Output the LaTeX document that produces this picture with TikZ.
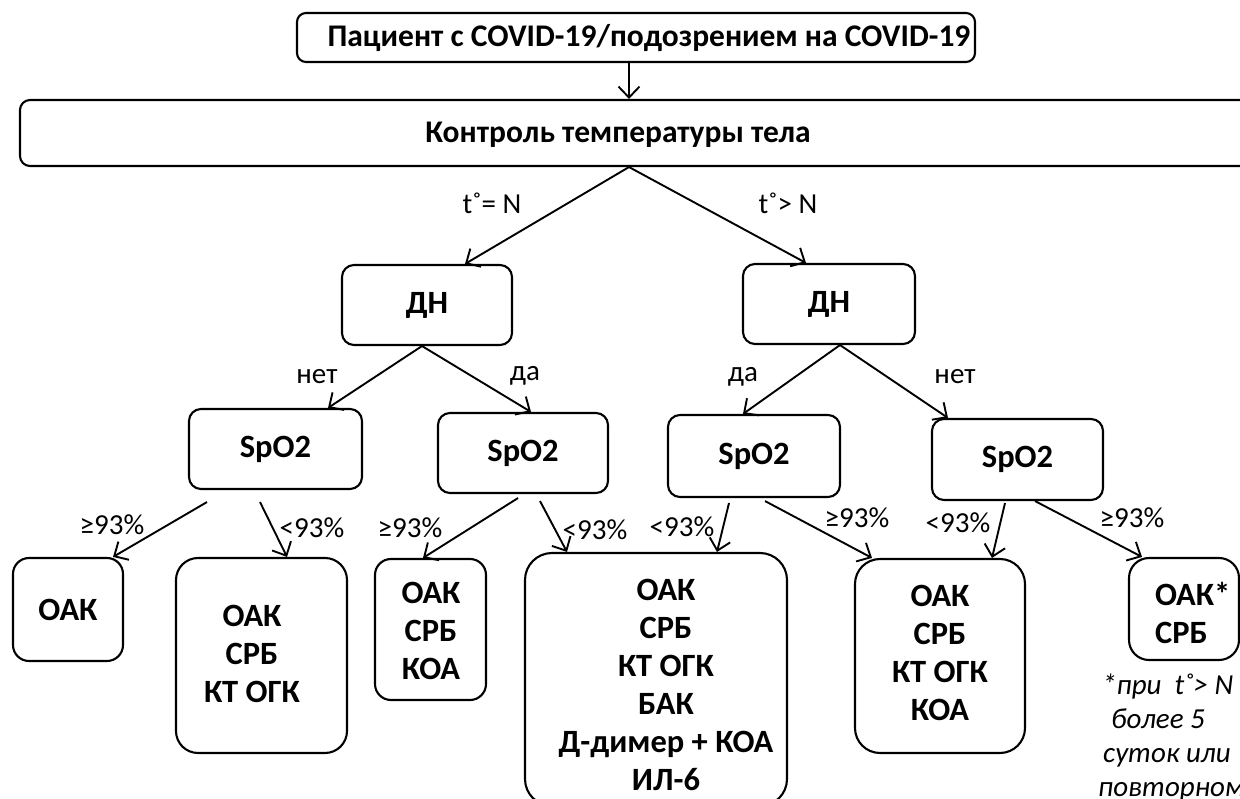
\documentclass[tikz,border=0pt]{standalone}
\usepackage{fontspec}
\setmainfont{Carlito}
\usetikzlibrary{arrows.meta}
\begin{document}
\begin{tikzpicture}[x=1pt,y=-1pt,
  box/.style={draw, line width=2.1pt, rounded corners=12pt, inner sep=0pt, align=center,
    font=\bfseries\fontsize{32.5}{38}\selectfont},
  btxt/.style={inner sep=0pt, align=center, font=\bfseries\fontsize{32.5}{38}\selectfont},
  lbl/.style={font=\fontsize{29}{33}\selectfont, inner sep=0pt},
  arr/.style={line width=1.9pt, -{Straight Barb[length=11pt,width=21pt]}}
]
\useasboundingbox (0,0) rectangle (1240,799);
\clip (0,0) rectangle (1240,799);

% top level
\node[box, minimum width=678pt, minimum height=49pt, rounded corners=9pt,
  font=\bfseries\fontsize{31.5}{38}\selectfont] (top) at (636,37.5)
  {\hspace*{26pt}Пациент с COVID-19/подозрением на COVID-19};
\node[box, minimum width=1250pt, minimum height=66pt, rounded corners=10pt] (ctrl) at (645,133) {};
\node[btxt, font=\bfseries\fontsize{31.5}{38}\selectfont] (ctrlt) at (618,135) {Контроль температуры тела};

% second level
\node[box, minimum width=170pt, minimum height=80pt] (dn1) at (427,305) {ДН};
\node[box, minimum width=172pt, minimum height=80pt] (dn2) at (829,304) {ДН};

% third level
\node[box, minimum width=173pt, minimum height=80pt] (s1) at (275.5,449) {SpO2};
\node[box, minimum width=170pt, minimum height=80pt] (s2) at (523,453) {SpO2};
\node[box, minimum width=172pt, minimum height=82pt] (s3) at (754,456) {SpO2};
\node[box, minimum width=171pt, minimum height=81pt] (s4) at (1017.5,459.5) {SpO2};

% fourth level
\node[box, minimum width=110pt, minimum height=103pt, rounded corners=16pt] (b1) at (68,609.5) {ОАК};
\node[box, minimum width=171pt, minimum height=195pt, rounded corners=22pt] (b2) at (261.5,655.5) {};
\node[btxt] (b2t) at (252,653.5) {ОАК\\СРБ\\КТ ОГК};
\node[box, minimum width=111pt, minimum height=141pt, rounded corners=16pt] (b3) at (430.5,629.5) {};
\node[btxt] (b3t) at (431,630.5) {ОАК\\СРБ\\КОА};
\node[box, minimum width=262pt, minimum height=253pt, rounded corners=27pt] (b4) at (656,679.5) {};
\node[btxt] (b4t) at (666,685) {ОАК\\СРБ\\КТ ОГК\\БАК\\Д-димер + КОА\\ИЛ-6};
\node[box, minimum width=170pt, minimum height=194pt, rounded corners=25pt] (b5) at (940,656) {};
\node[btxt] (b5t) at (940,652.5) {ОАК\\СРБ\\КТ ОГК\\КОА};
\node[box, minimum width=110pt, minimum height=102pt, rounded corners=20pt] (b6) at (1184,609) {};
\node[btxt, align=left, anchor=west] (b6t) at (1155,612.5) {ОАК*\\СРБ};

\node[font=\itshape\fontsize{29}{34}\selectfont, inner sep=0pt, align=left, anchor=north west] (note) at (1098,674)
  {\hspace*{4pt}*при\ \ t˚> N\\\hspace*{13pt}более 5\\\hspace*{5pt}суток или\\повторном};

% connectors
\draw[arr] ([xshift=-7pt]top.south) -- ([xshift=-16pt]ctrl.north);
\draw[arr] ([xshift=-16pt]ctrl.south) -- ([xshift=38pt]dn1.north);
\draw[arr] ([xshift=-16pt]ctrl.south) -- ([xshift=-23pt]dn2.north);
\node[lbl] (lt1) at (492,203) {t˚= N};
\node[lbl] (lt2) at (788,203) {t˚> N};

\draw[arr] ([xshift=-5pt]dn1.south) -- ([xshift=52.5pt]s1.north);
\draw[arr] ([xshift=-5pt]dn1.south) -- ([xshift=8pt]s2.north);
\node[lbl] (l1) at (317,377) {нет};
\node[lbl] (l2) at (525,376) {да};
\draw[arr] ([xshift=11pt]dn2.south) -- ([xshift=-11pt]s3.north);
\draw[arr] ([xshift=11pt]dn2.south) -- ([xshift=-69.5pt]s4.north);
\node[lbl] (l3) at (743,377) {да};
\node[lbl] (l4) at (955,377) {нет};

\draw[arr] ([xshift=-68.5pt,yshift=-12pt]s1.south) -- ([xshift=45pt]b1.north);
\node[lbl] (l5) at (112,525) {≥93\%};
\draw[arr] ([xshift=-15.5pt,yshift=-12pt]s1.south) -- ([xshift=25.5pt]b2.north);
\node[lbl] (l6) at (312,528) {<93\%};
\draw[arr] ([xshift=-5pt,yshift=-4pt]s2.south) -- ([xshift=-7.5pt]b3.north);
\node[lbl] (l7) at (410,528) {≥93\%};
\draw[arr] ([xshift=17pt,yshift=-7pt]s2.south) -- ([xshift=-89pt]b4.north);
\node[lbl] (l8) at (595,530) {<93\%};
\draw[arr] ([xshift=-25pt,yshift=-5pt]s3.south) -- ([xshift=61pt]b4.north);
\node[lbl] (l9) at (682,527) {<93\%};
\draw[arr] ([xshift=11pt,yshift=-3pt]s3.south) -- ([xshift=-68pt]b5.north);
\node[lbl] (l10) at (857,518) {≥93\%};
\draw[arr] ([xshift=-12.5pt,yshift=-2pt]s4.south) -- ([xshift=52pt]b5.north);
\node[lbl] (l11) at (958,523) {<93\%};
\draw[arr] ([xshift=17.5pt]s4.south) -- ([xshift=-42pt]b6.north);
\node[lbl] (l12) at (1132,518) {≥93\%};
\end{tikzpicture}
\end{document}
